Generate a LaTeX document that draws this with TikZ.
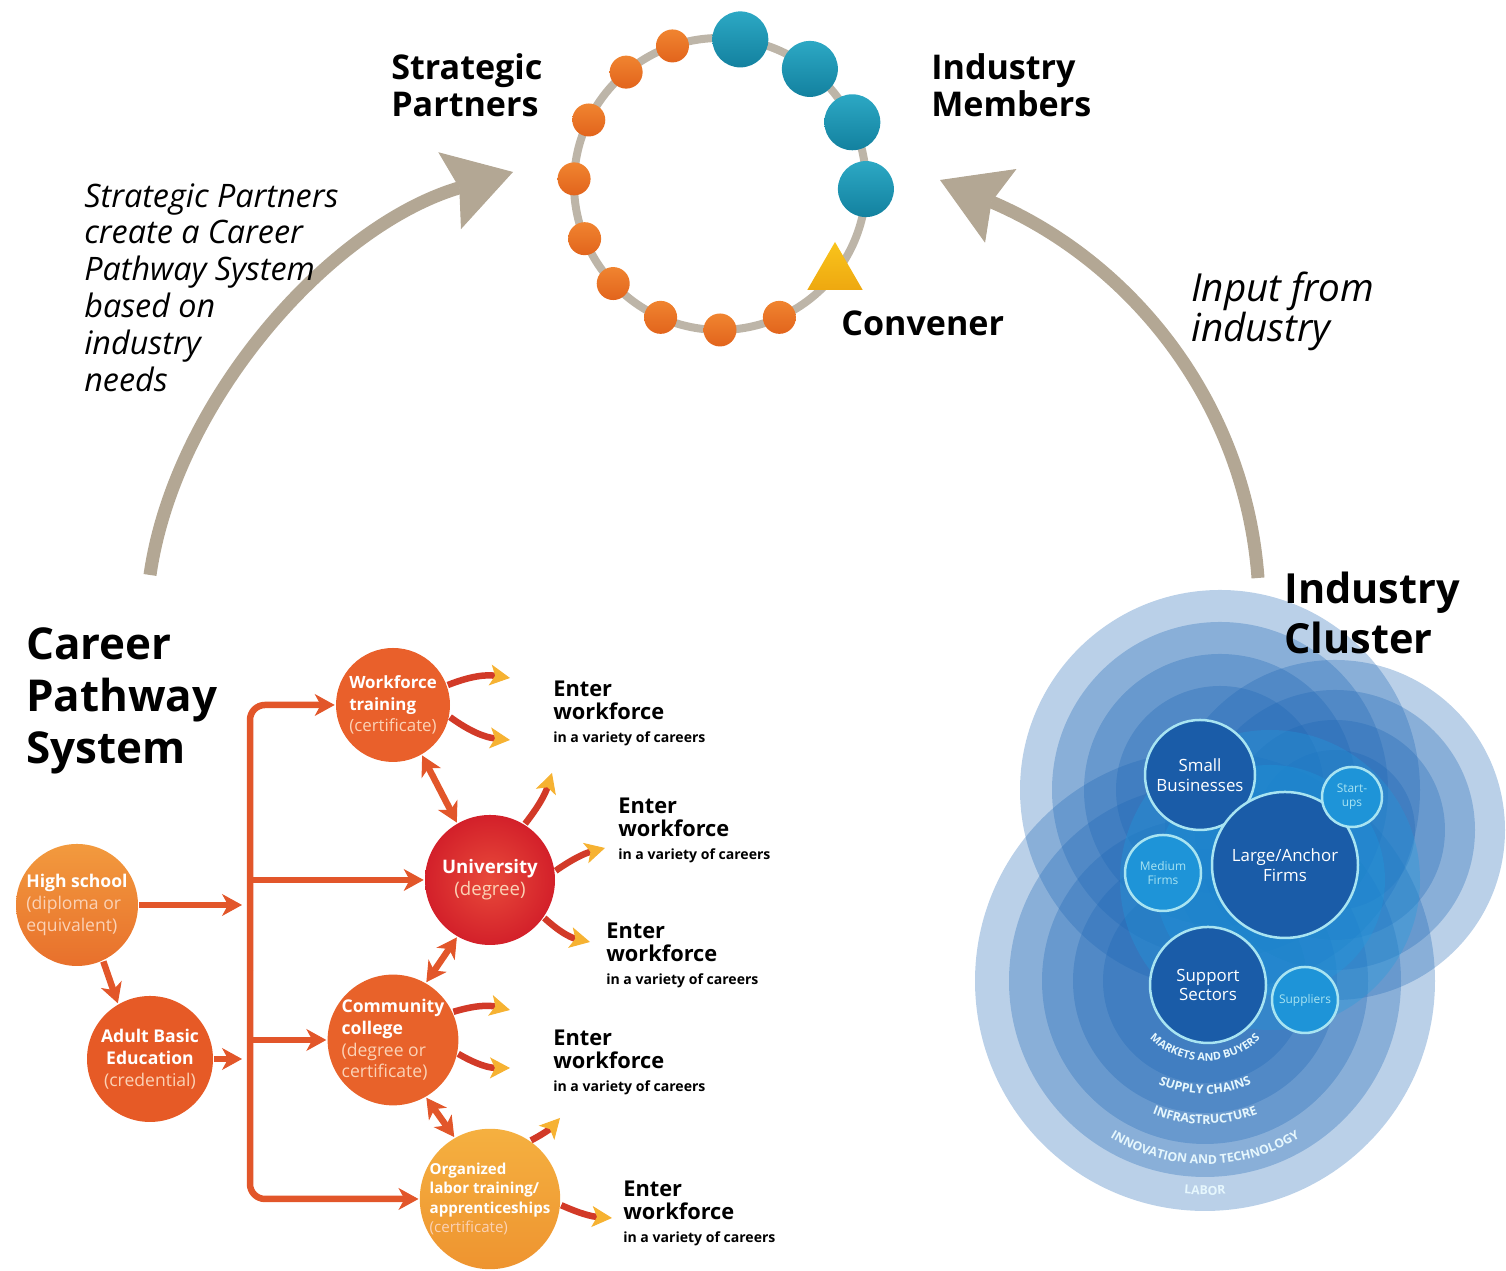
\documentclass[tikz,border=0pt]{standalone}
\usepackage{fontspec}
\setmainfont{Open Sans}
\usetikzlibrary{%
  arrows.meta,%
  shapes.geometric,% wg. regular polygon
  decorations.text,% labels on the rings
  positioning%
}

\definecolor{arrtan}{HTML}{B3A794}
\definecolor{ringgray}{HTML}{BDB5A8}
\definecolor{dotor}{HTML}{F08430}
\definecolor{dotorD}{HTML}{E2641C}
\definecolor{tealL}{HTML}{2CA8C4}
\definecolor{tealD}{HTML}{13819F}
\definecolor{convy}{HTML}{F9C41C}
\definecolor{convyD}{HTML}{EEA810}
\definecolor{linkred}{HTML}{E2562A}
\definecolor{hsorL}{HTML}{F29A3E}
\definecolor{hsorD}{HTML}{E8702C}
\definecolor{abeor}{HTML}{E65A26}
\definecolor{wftor}{HTML}{E9602B}
\definecolor{uniredL}{HTML}{E84A3A}
\definecolor{unired}{HTML}{D3202A}
\definecolor{ccor}{HTML}{E8622A}
\definecolor{olorL}{HTML}{F5B040}
\definecolor{olor}{HTML}{EE9430}
\definecolor{paleor}{HTML}{FBD2B6}
\definecolor{outred}{HTML}{D23A28}
\definecolor{outyel}{HTML}{F6B232}
\definecolor{clblue}{HTML}{1A64B4}
\definecolor{clcyan}{HTML}{1E9BE0}
\definecolor{firmblue}{HTML}{1A5CA8}
\definecolor{firmcyan}{HTML}{1E94D8}
\definecolor{rimcyan}{HTML}{A8E4F2}

\newcommand{\cpsub}[1]{{\color{paleor}\mdseries #1}}
\newcommand{\varcar}{{\fontsize{4.0}{6.5}\selectfont in a variety of careers}}

\begin{document}
\begin{tikzpicture}
[line width=0.75pt, >=Stealth,
bigtitle/.style={anchor=north west, inner sep=0pt, align=left, font=\bfseries\fontsize{12.5}{14.8}\selectfont},
toptitle/.style={anchor=north west, inner sep=0pt, align=left, font=\bfseries\fontsize{9.7}{10.5}\selectfont},
note/.style={anchor=north west, inner sep=0pt, align=left, font=\itshape\fontsize{9.2}{10.5}\selectfont},
bigarr/.style={line width=0.13cm, draw=arrtan, -{Stealth[length=0.66cm, width=0.80cm, inset=0.10cm, line width=0.01cm]}},
ring/.style={draw=ringgray, line width=0.08cm},
spdot/.style={circle, minimum size=0.33cm, inner sep=0pt, top color=dotor, bottom color=dotorD},
imdot/.style={circle, minimum size=0.56cm, inner sep=0pt, top color=tealL, bottom color=tealD},
convtri/.style={regular polygon, regular polygon sides=3, minimum size=0.64cm, inner sep=0pt, top color=convy, bottom color=convyD},
cpnode/.style={circle, inner sep=0pt, text=white, align=left, font=\bfseries\fontsize{5.0}{6.2}\selectfont},
link/.style={line width=0.065cm, draw=linkred, -{Stealth[length=0.2cm, width=0.22cm, inset=0.06cm, line width=0.01cm]}},
dlink/.style={line width=0.065cm, draw=linkred, {Stealth[length=0.2cm, width=0.22cm, inset=0.06cm, line width=0.01cm]}-{Stealth[length=0.2cm, width=0.22cm, inset=0.06cm, line width=0.01cm]}},
outarr/.style={line width=0.065cm, draw=outred, -{Stealth[length=0.2cm, width=0.21cm, inset=0.05cm, fill=outyel, color=outyel, line width=0.01cm]}},
enterwf/.style={anchor=north west, inner sep=0pt, align=left, font=\bfseries\fontsize{6.2}{6.5}\selectfont},
layer/.style={fill=clblue, fill opacity=0.3},
cyanlayer/.style={fill=clcyan, fill opacity=0.32},
firm/.style={circle, draw=rimcyan, line width=0.025cm, fill=firmblue, inner sep=0pt, text=white, align=center, font=\fontsize{4.8}{5.6}\selectfont},
smallfirm/.style={firm, fill=firmcyan, text=rimcyan, font=\fontsize{3.4}{4.0}\selectfont},
arclbl/.style={decorate, decoration={text along path, text align=center, text color=white!90!cyan}}]

\useasboundingbox (0,0) rectangle (15.06,12.71);

% ---- partnership ring ----
\coordinate (rc) at (7.20,10.87);
\draw[ring] (rc) circle (1.46);
\foreach \a in {109,130,154,178,202,223,246,270,294} {
  \node[spdot] (sp\a) at ([shift={(\a:1.46)}]rc) {};
}
\foreach \a in {82,52,25,-2} {
  \node[imdot] (im\a) at ([shift={(\a:1.46)}]rc) {};
}
\node[convtri] (conv) at (8.35,9.97) {};

\node[toptitle] (sptitle) at (3.90,12.19) {Strategic\\Partners};
\node[toptitle] (imtitle) at (9.30,12.19) {Industry\\Members};
\node[toptitle] (convtitle) at (8.40,9.61) {Convener};

% ---- big arrows ----
\coordinate (lefttail) at (1.50,6.96);
\coordinate (lefttip) at (5.13,10.99);
\coordinate (righttail) at (12.58,6.93);
\coordinate (righttip) at (9.40,10.91);
\draw[bigarr] (lefttail) .. controls (1.75,8.70) and (3.30,10.45) .. (lefttip);
\draw[bigarr] (righttail) .. controls (12.45,8.70) and (11.30,10.10) .. (righttip);

\node[note] (spnote) at (0.83,10.89) {Strategic Partners\\create a Career\\Pathway System\\based on\\industry\\needs};
\node[note, font=\itshape\fontsize{11}{11.4}\selectfont] (innote) at (11.90,10.00) {Input from\\industry};

% ---- career pathway system ----
\node[bigtitle] (cptitle) at (0.25,6.45) {Career\\Pathway\\System};

\node[cpnode, minimum size=1.22cm, top color=hsorL, bottom color=hsorD] (hs) at (0.77,3.66) {High school\\\cpsub{(diploma or}\\\cpsub{equivalent)}};
\node[cpnode, minimum size=1.26cm, fill=abeor, align=center] (abe) at (1.50,2.12) {Adult Basic\\Education\\\cpsub{(credential)}};
\node[cpnode, minimum size=1.14cm, fill=wftor, font=\bfseries\fontsize{4.8}{6.2}\selectfont] (wft) at (3.93,5.66) {Workforce\\training\\\cpsub{(certificate)}};
\node[cpnode, minimum size=1.30cm, inner color=uniredL, outer color=unired, align=center, font=\bfseries\fontsize{5.3}{6.2}\selectfont] (uni) at (4.90,3.91) {University\\\cpsub{(degree)}};
\node[cpnode, minimum size=1.24cm, fill=ccor] (cc) at (3.93,2.31) {Community\\college\\\cpsub{(degree or}\\\cpsub{certificate)}};
\node[cpnode, minimum size=1.26cm, top color=olorL, bottom color=olor, font=\bfseries\fontsize{4.3}{5.5}\selectfont] (ol) at (4.90,0.72) {Organized\\labor training/\\apprenticeships\\\cpsub{(certificate)}};

\coordinate (busmid) at (2.50,3.00);
\coordinate (hsin) at (2.42,3.66);
\coordinate (abein) at (2.42,2.12);
\draw[link, rounded corners=0.15cm] (busmid) |- (wft.west);
\draw[link, rounded corners=0.15cm] (busmid) |- (ol.west);
\draw[link] (2.50,3.91) -- (uni.west);
\draw[link] (2.50,2.31) -- (cc.west);
\draw[link] (hs.east) -- (hsin);
\draw[link] (abe.east) -- (abein);
\draw[link] (hs.-65) -- (abe.120);
\draw[dlink] (wft.-60) -- (uni.120);
\draw[dlink] (uni.-120) -- (cc.60);
\draw[dlink] (cc.-60) -- (ol.120);

% exits into the workforce
\coordinate (w1) at (5.10,5.93);
\coordinate (w2) at (5.10,5.31);
\coordinate (u1) at (5.52,4.98);
\coordinate (u2) at (6.05,4.23);
\coordinate (u3) at (5.90,3.29);
\coordinate (c1) at (5.10,2.61);
\coordinate (c2) at (5.10,2.03);
\coordinate (l1) at (5.60,1.53);
\coordinate (l2) at (6.12,0.53);
\draw[outarr] (wft.20) to[bend left=15] (w1);
\draw[outarr] (wft.-12) to[bend right=15] (w2);
\draw[outarr] (uni.58) to[bend right=10] (u1);
\draw[outarr] (uni.8) to[bend left=10] (u2);
\draw[outarr] (uni.-35) to[bend right=15] (u3);
\draw[outarr] (cc.25) to[bend left=15] (c1);
\draw[outarr] (cc.-12) to[bend right=15] (c2);
\draw[outarr] (ol.55) to[bend right=10] (l1);
\draw[outarr] (ol.-5) to[bend right=10] (l2);

\foreach \n/\x/\y in {1/5.52/5.91, 2/6.17/4.74, 3/6.05/3.49, 4/5.52/2.42, 5/6.22/0.91} {
  \node[enterwf] (ew\n) at (\x,\y) {Enter\\workforce\\\varcar};
}

% ---- industry cluster ----
\foreach \cx/\cy/\r in {12.05/2.90/2.30, 12.05/2.90/1.96, 12.05/2.90/1.63, 12.05/2.90/1.32, 12.05/2.90/1.02,
                        12.20/4.81/2.00, 12.20/4.81/1.68, 12.20/4.81/1.36, 12.20/4.81/1.04,
                        13.35/4.41/1.70, 13.35/4.41/1.40, 13.35/4.41/1.10, 13.35/4.41/0.80} {
  \fill[layer] (\cx,\cy) circle (\r);
}
\foreach \cx/\cy/\r in {12.70/3.91/1.50, 12.70/3.91/1.15} {
  \fill[cyanlayer] (\cx,\cy) circle (\r);
}

\path[arclbl, decoration={text={|\bfseries\fontsize{3.1}{3.1}\selectfont|MARKETS AND BUYERS}}] ([shift={(218:0.80)}]12.05,2.90) arc[start angle=218, end angle=322, radius=0.80];
\path[arclbl, decoration={text={|\bfseries\fontsize{3.5}{3.5}\selectfont|SUPPLY CHAINS}}] ([shift={(235:1.13)}]12.05,2.90) arc[start angle=235, end angle=305, radius=1.13];
\path[arclbl, decoration={text={|\bfseries\fontsize{3.5}{3.5}\selectfont|INFRASTRUCTURE}}] ([shift={(240:1.43)}]12.05,2.90) arc[start angle=240, end angle=300, radius=1.43];
\path[arclbl, decoration={text={|\bfseries\fontsize{3.5}{3.5}\selectfont|INNOVATION AND TECHNOLOGY}}] ([shift={(224:1.83)}]12.05,2.90) arc[start angle=224, end angle=316, radius=1.83];
\path[arclbl, decoration={text={|\bfseries\fontsize{3.5}{3.5}\selectfont|LABOR}}] ([shift={(258:2.14)}]12.05,2.90) arc[start angle=258, end angle=282, radius=2.14];

\node[firm, minimum size=1.10cm] (sb) at (12.00,4.96) {Small\\Businesses};
\node[firm, minimum size=1.46cm] (laf) at (12.85,4.06) {Large/Anchor\\Firms};
\node[firm, minimum size=1.16cm] (ss) at (12.08,2.86) {Support\\Sectors};
\node[smallfirm, minimum size=0.76cm] (mf) at (11.63,3.98) {Medium\\Firms};
\node[smallfirm, minimum size=0.60cm] (su) at (13.52,4.74) {Start-\\ups};
\node[smallfirm, minimum size=0.66cm] (spl) at (13.05,2.71) {Suppliers};

\node[bigtitle, font=\bfseries\fontsize{11.8}{14.2}\selectfont] (ictitle) at (12.83,7.00) {Industry\\Cluster};
\end{tikzpicture}
\end{document}
